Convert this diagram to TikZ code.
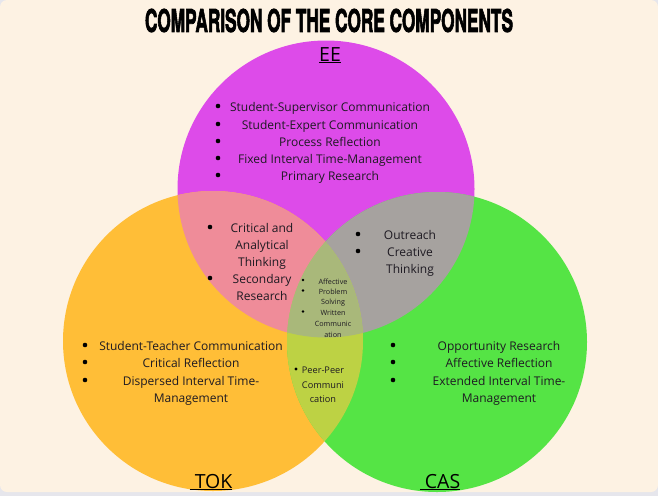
\documentclass[tikz,border=0pt]{standalone}
\usepackage{fontspec}
\setmainfont{Open Sans}
\newfontfamily\ttlfont[FakeBold=3]{TeX Gyre Heros}
\definecolor{bgcream}{HTML}{FDF2E3}
\definecolor{bggray}{HTML}{E6E6EC}
\definecolor{eecol}{HTML}{DD4BE9}
\definecolor{tokcol}{HTML}{FFBE37}
\definecolor{cascol}{HTML}{55E445}
\definecolor{eetok}{HTML}{EF8C99}
\definecolor{eecas}{HTML}{A6A29F}
\definecolor{tokcas}{HTML}{BDD244}
\definecolor{allcol}{HTML}{A9B87A}
\definecolor{txt}{HTML}{1E1A22}
\begin{document}
\begin{tikzpicture}[x=1pt,y=-1pt,
  lbl/.style={font=\fontsize{12}{14}\selectfont, text=txt, anchor=mid, inner sep=0pt, yshift=-2.8pt},
  mlbl/.style={font=\fontsize{9.2}{11}\selectfont, text=txt, anchor=mid, inner sep=0pt, yshift=-2.2pt},
  slbl/.style={font=\fontsize{7.2}{9}\selectfont, text=txt, anchor=mid, inner sep=0pt, yshift=-1.5pt},
  head/.style={font=\fontsize{19.5}{22}\selectfont, text=black, anchor=base, inner sep=0pt},
  dot/.style={circle, fill=black, inner sep=0pt, minimum size=4.6pt},
  sdot/.style={circle, fill=black, inner sep=0pt, minimum size=2.6pt}]
\useasboundingbox (0,0) rectangle (658,496);
\fill[bggray] (0,0) rectangle (658,496);
\fill[bgcream, rounded corners=7pt] (0,0) rectangle (658,492);
% circles
\coordinate (cee) at (326,189);
\coordinate (ctok) at (213,341);
\coordinate (ccas) at (437,342);
\fill[eecol] (cee) circle[radius=148.5pt];
\fill[tokcol] (ctok) circle[radius=150pt];
\fill[cascol] (ccas) circle[radius=150pt];
\begin{scope}
  \clip (cee) circle[radius=148.5pt];
  \fill[eetok] (ctok) circle[radius=150pt];
  \fill[eecas] (ccas) circle[radius=150pt];
\end{scope}
\begin{scope}
  \clip (ctok) circle[radius=150pt];
  \fill[tokcas] (ccas) circle[radius=150pt];
  \clip (ccas) circle[radius=150pt];
  \fill[allcol] (cee) circle[radius=148.5pt];
\end{scope}
% title
\node[inner sep=0pt] (title) at (329,20.5) {\resizebox{368pt}{23pt}{\ttlfont\bfseries COMPARISON OF THE CORE COMPONENTS}};
% circle labels
\node[head] (ee) at (330,61) {\underline{EE}};
\node[head] (tok) at (211,488) {\underline{\ TOK}};
\node[head] (cas) at (440,488) {\underline{\ CAS}};
% EE list
\foreach \t/\y [count=\i] in {Student-Supervisor Communication/106, Student-Expert Communication/124, Process Reflection/141, Fixed Interval Time-Management/158, Primary Research/175}{
  \node[lbl] (ee\i) at (330,\y) {\t};
  \node[dot] (eeb\i) at (218,\y) {};
}
% EE and TOK
\foreach \t/\y [count=\i] in {Critical and/227, Analytical/244, Thinking/261, Secondary/278, Research/295}{
  \node[lbl] (et\i) at (262,\y) {\t};
}
\node[dot] (etb1) at (210,227) {};
\node[dot] (etb2) at (210,278) {};
% EE and CAS
\foreach \t/\y [count=\i] in {Outreach/234, Creative/251, Thinking/268}{
  \node[lbl] (ec\i) at (410,\y) {\t};
}
\node[dot] (ecb1) at (358,234) {};
\node[dot] (ecb2) at (358,251) {};
% all three
\foreach \t/\y [count=\i] in {Affective/280, Problem/290.5, Solving/300.5, Written/311.5, Communic/322, ation/333}{
  \node[slbl] (al\i) at (333,\y) {\t};
}
\node[sdot] (alb1) at (303,280) {};
\node[sdot] (alb2) at (303,290.5) {};
\node[sdot] (alb3) at (303,311.5) {};
% TOK list
\foreach \t/\y [count=\i] in {Student-Teacher Communication/345, Critical Reflection/362, Dispersed Interval Time-/380, Management/397}{
  \node[lbl] (tk\i) at (191,\y) {\t};
}
\node[dot] (tkb1) at (85,345) {};
\node[dot] (tkb2) at (85,362) {};
\node[dot] (tkb3) at (85,380) {};
% CAS list
\foreach \t/\y [count=\i] in {Opportunity Research/345, Affective Reflection/362, Extended Interval Time-/380, Management/397}{
  \node[lbl] (cs\i) at (499,\y) {\t};
}
\node[dot] (csb1) at (393,345) {};
\node[dot] (csb2) at (393,362) {};
\node[dot] (csb3) at (393,380) {};
% TOK and CAS
\foreach \t/\y [count=\i] in {Peer-Peer/369, Communi/384, cation/398}{
  \node[mlbl] (tc\i) at (323,\y) {\t};
}
\node[sdot, minimum size=3.4pt] (tcb1) at (296,369) {};
\end{tikzpicture}
\end{document}
